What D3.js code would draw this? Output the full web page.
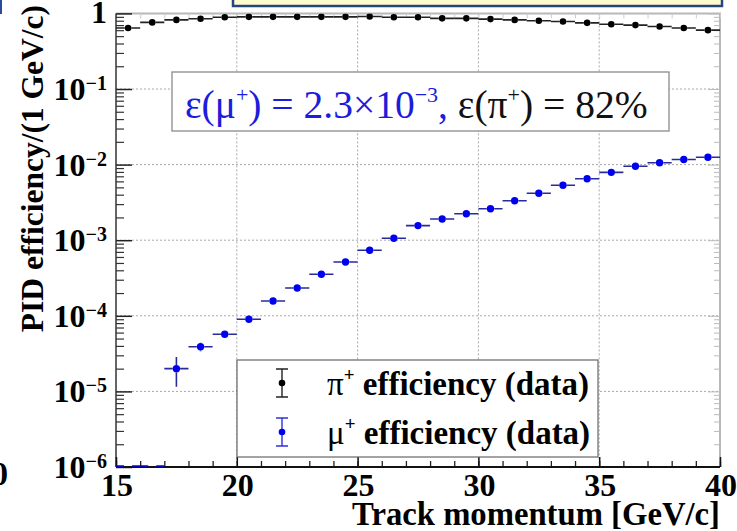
<!DOCTYPE html>
<html>
<head>
<meta charset="utf-8">
<script src="https://cdn.jsdelivr.net/npm/d3@7"></script>
<style>
  body { margin: 0; background: #fff; overflow: hidden; }
</style>
</head>
<body>
<script>
(function() {
    'use strict';

    // bin centres of the 1 GeV/c momentum bins
    var binCenters = [15.5, 16.5, 17.5, 18.5, 19.5, 20.5, 21.5, 22.5, 23.5, 24.5,
        25.5, 26.5, 27.5, 28.5, 29.5, 30.5, 31.5, 32.5, 33.5, 34.5,
        35.5, 36.5, 37.5, 38.5, 39.5];
    var binHalfWidth = 0.5;

    var pionEff = [0.64, 0.76, 0.82, 0.85, 0.89, 0.90, 0.90, 0.90, 0.90, 0.90,
        0.91, 0.89, 0.89, 0.86, 0.86, 0.84, 0.82, 0.80, 0.78, 0.75,
        0.72, 0.70, 0.67, 0.64, 0.60];
    var pionErr = [0.01, 0.008, 0.006, 0.005, 0.005, 0.005, 0.005, 0.005, 0.005, 0.005,
        0.005, 0.005, 0.005, 0.005, 0.005, 0.005, 0.005, 0.005, 0.005, 0.005,
        0.005, 0.005, 0.005, 0.006, 0.008];

    var muonEff = [0, 0, 2.0e-5, 3.9e-5, 5.7e-5, 9.0e-5, 1.57e-4, 2.33e-4, 3.54e-4, 5.15e-4,
        7.35e-4, 1.06e-3, 1.56e-3, 1.91e-3, 2.24e-3, 2.61e-3, 3.33e-3, 4.17e-3, 5.32e-3, 6.5e-3,
        7.9e-3, 9.5e-3, 1.06e-2, 1.17e-2, 1.25e-2];
    var muonErr = [0, 0, 0.85e-5, 0.5e-5, 0.5e-5, 0.6e-5, 0.8e-5, 1.0e-5, 1.3e-5, 1.6e-5,
        2.0e-5, 2.5e-5, 3.0e-5, 3.5e-5, 4.0e-5, 4.5e-5, 5.0e-5, 6.0e-5, 7.0e-5, 8.0e-5,
        9.0e-5, 1.0e-4, 1.1e-4, 1.2e-4, 1.3e-4];

    var xTickLabels = [15, 20, 25, 30, 35, 40];
    var xGridValues = [20, 25, 30, 35];
    var yTickExponents = [0, -1, -2, -3, -4, -5, -6];

    var width = 737, height = 531;
    var frame = { left: 116, right: 720, top: 13.4, bottom: 467 };
    var serif = '"Liberation Serif", "Times New Roman", serif';

    var svg = d3.select('body').append('svg')
        .attr('width', width)
        .attr('height', height)
        .attr('font-family', serif);

    var x = d3.scaleLinear().domain([15, 40]).range([frame.left, frame.right]);
    var y = d3.scaleLog().domain([1e-6, 1]).range([frame.bottom, frame.top]);

    // bits of neighbouring slide content
    svg.append('rect')
        .attr('x', 233).attr('y', -4).attr('width', 489).attr('height', 10)
        .attr('fill', '#fffbcc').attr('stroke', '#24457f').attr('stroke-width', 2.5);
    svg.append('rect')
        .attr('x', -2).attr('y', -2).attr('width', 4).attr('height', 16)
        .attr('fill', '#2a4a9a');
    svg.append('text')
        .attr('x', 8).attr('y', 485)
        .attr('text-anchor', 'end')
        .style('font-size', '33px').style('font-weight', 'bold')
        .text('0');

    svg.append('defs').append('clipPath').attr('id', 'plotclip')
        .append('rect')
        .attr('x', frame.left).attr('y', frame.top)
        .attr('width', frame.right - frame.left)
        .attr('height', frame.bottom - frame.top);

    // grid
    var grid = svg.append('g')
        .attr('stroke', '#a8a8a8')
        .attr('stroke-width', 1)
        .attr('stroke-dasharray', '2,2');
    grid.selectAll('line.gx').data(xGridValues).enter().append('line')
        .attr('x1', function(d) { return x(d); })
        .attr('x2', function(d) { return x(d); })
        .attr('y1', frame.top).attr('y2', frame.bottom);
    grid.selectAll('line.gy').data([-1, -2, -3, -4, -5]).enter().append('line')
        .attr('x1', frame.left).attr('x2', frame.right)
        .attr('y1', function(d) { return y(Math.pow(10, d)); })
        .attr('y2', function(d) { return y(Math.pow(10, d)); });

    // frame: top and right in grey
    svg.append('path')
        .attr('d', 'M' + frame.left + ',' + frame.top + 'H' + frame.right + 'V' + frame.bottom)
        .attr('fill', 'none').attr('stroke', '#b8b8b8').attr('stroke-width', 2);

    // minor tick values
    var yMajor = yTickExponents.map(function(e) { return Math.pow(10, e); });
    var yMinor = [];
    yTickExponents.slice(1).forEach(function(e) {
        for (var k = 2; k <= 9; k++) { yMinor.push(k * Math.pow(10, e)); }
    });
    var xMinor = d3.range(15, 40.5, 1);

    // mirrored ticks (right / top)
    svg.append('g')
        .attr('transform', 'translate(' + frame.right + ',0)')
        .call(d3.axisRight(y).tickValues(yMinor).tickSize(-6).tickFormat(''))
        .call(function(g) { g.select('.domain').remove(); })
        .selectAll('line').attr('stroke', '#bbb');
    svg.append('g')
        .attr('transform', 'translate(' + frame.right + ',0)')
        .call(d3.axisRight(y).tickValues(yMajor).tickSize(-12).tickFormat(''))
        .call(function(g) { g.select('.domain').remove(); })
        .selectAll('line').attr('stroke', '#bbb');
    svg.append('g')
        .attr('transform', 'translate(0,' + frame.top + ')')
        .call(d3.axisTop(x).tickValues(xMinor).tickSize(-5).tickFormat(''))
        .call(function(g) { g.select('.domain').remove(); })
        .selectAll('line').attr('stroke', '#ccc');

    // left axis
    var yAxisG = svg.append('g')
        .attr('transform', 'translate(' + frame.left + ',0)');
    yAxisG.append('g')
        .call(d3.axisLeft(y).tickValues(yMinor).tickSize(-8).tickFormat(''))
        .call(function(g) { g.select('.domain').remove(); })
        .selectAll('line').attr('stroke', '#333').attr('stroke-width', 1.2);
    yAxisG.append('g')
        .call(d3.axisLeft(y).tickValues(yMajor).tickSize(-16).tickFormat(''))
        .call(function(g) { g.select('.domain').remove(); })
        .selectAll('line').attr('stroke', '#222').attr('stroke-width', 1.5);
    yAxisG.append('line')
        .attr('x1', 0).attr('x2', 0)
        .attr('y1', frame.top).attr('y2', frame.bottom)
        .attr('stroke', '#333').attr('stroke-width', 1.5);

    // bottom axis
    var xAxisG = svg.append('g')
        .attr('transform', 'translate(0,' + frame.bottom + ')');
    xAxisG.append('g')
        .call(d3.axisBottom(x).tickValues(xMinor).tickSize(-6).tickFormat(''))
        .call(function(g) { g.select('.domain').remove(); })
        .selectAll('line').attr('stroke', '#222').attr('stroke-width', 1.3);
    xAxisG.append('g')
        .call(d3.axisBottom(x).tickValues(xTickLabels).tickSize(-10).tickFormat(''))
        .call(function(g) { g.select('.domain').remove(); })
        .selectAll('line').attr('stroke', '#111').attr('stroke-width', 1.5);
    xAxisG.append('line')
        .attr('x1', frame.left).attr('x2', frame.right)
        .attr('y1', 0).attr('y2', 0)
        .attr('stroke', '#111').attr('stroke-width', 1.8);

    // tick labels
    svg.selectAll('text.xlab').data(xTickLabels).enter().append('text')
        .attr('class', 'xlab')
        .attr('x', function(d) { return x(d) + 1; })
        .attr('y', 496)
        .attr('text-anchor', 'middle')
        .style('font-size', '32px').style('font-weight', 'bold')
        .text(function(d) { return d; });

    yTickExponents.forEach(function(e) {
        var ty = y(Math.pow(10, e));
        var t = svg.append('text')
            .attr('x', 107)
            .attr('text-anchor', 'end')
            .style('font-weight', 'bold');
        if (e === 0) {
            t.attr('y', ty + 10).style('font-size', '32px').text('1');
        } else {
            t.attr('y', ty + 11).style('font-size', '32px');
            t.append('tspan').text('10');
            t.append('tspan').attr('dy', -10).style('font-size', '20px').text('\u2212' + (-e));
        }
    });

    // axis titles
    svg.append('text')
        .attr('x', 720).attr('y', 525)
        .attr('text-anchor', 'end')
        .style('font-size', '32.7px').style('font-weight', 'bold')
        .text('Track momentum [GeV/c]');
    svg.append('text')
        .attr('transform', 'translate(43,5) rotate(-90)')
        .attr('text-anchor', 'end')
        .style('font-size', '31.5px').style('font-weight', 'bold')
        .text('PID efficiency/(1 GeV/c)');

    // data
    var plot = svg.append('g').attr('clip-path', 'url(#plotclip)');

    function drawSeries(vals, errs, markColor, barColor, r) {
        var g = plot.append('g');
        var pts = binCenters.map(function(c, i) {
            return { c: c, v: vals[i], e: errs[i] };
        });
        var shown = pts.filter(function(d) { return d.v > 0; });
        var zero = pts.filter(function(d) { return d.v <= 0; });
        // horizontal bin bars with a gap for the marker
        g.selectAll('path.h').data(shown).enter().append('path')
            .attr('d', function(d) {
                var cx = x(d.c), cy = y(d.v);
                return 'M' + x(d.c - binHalfWidth) + ',' + cy + 'H' + (cx - r) +
                    'M' + (cx + r) + ',' + cy + 'H' + x(d.c + binHalfWidth);
            })
            .attr('stroke', barColor).attr('stroke-width', 1.6).attr('fill', 'none');
        g.selectAll('path.v').data(shown.filter(function(d) {
            return y(d.v - d.e) - y(d.v + d.e) > 2 * r + 1;
        })).enter().append('path')
            .attr('d', function(d) {
                var cx = x(d.c), cy = y(d.v);
                return 'M' + cx + ',' + y(d.v + d.e) + 'V' + (cy - r) +
                    'M' + cx + ',' + (cy + r) + 'V' + y(d.v - d.e);
            })
            .attr('stroke', barColor).attr('stroke-width', 1.6).attr('fill', 'none');
        g.selectAll('path.z').data(zero).enter().append('path')
            .attr('d', function(d) {
                var cx = x(d.c);
                return 'M' + x(d.c - binHalfWidth) + ',' + (frame.bottom - 1) + 'H' + (cx - 4) +
                    'M' + (cx + 4) + ',' + (frame.bottom - 1) + 'H' + x(d.c + binHalfWidth);
            })
            .attr('stroke', markColor).attr('stroke-width', 1.6).attr('fill', 'none');
        g.selectAll('circle').data(shown).enter().append('circle')
            .attr('cx', function(d) { return x(d.c); })
            .attr('cy', function(d) { return y(d.v); })
            .attr('r', r)
            .attr('fill', markColor);
    }

    drawSeries(pionEff, pionErr, '#000', '#222', 3.3);
    drawSeries(muonEff, muonErr, '#0000f0', '#2a2a9a', 3.7);

    // annotation box
    svg.append('rect')
        .attr('x', 172).attr('y', 72).attr('width', 497).attr('height', 59)
        .attr('fill', '#fff').attr('stroke', '#8a8a8a').attr('stroke-width', 1.3);
    var ann = svg.append('text')
        .attr('x', 185).attr('y', 118)
        .style('font-size', '39.5px');
    var blue = '#1c1cdc';
    ann.append('tspan').attr('fill', blue).text('\u03b5(\u03bc');
    ann.append('tspan').attr('fill', blue).attr('dy', -16).style('font-size', '22px').text('+');
    ann.append('tspan').attr('fill', blue).attr('dy', 16).text(') = 2.3\u00d710');
    ann.append('tspan').attr('fill', blue).attr('dy', -16).style('font-size', '22px').text('\u22123');
    ann.append('tspan').attr('fill', blue).attr('dy', 16).text(', ');
    ann.append('tspan').attr('fill', '#111').text('\u03b5(\u03c0');
    ann.append('tspan').attr('fill', '#111').attr('dy', -16).style('font-size', '22px').text('+');
    ann.append('tspan').attr('fill', '#111').attr('dy', 16).text(') = 82%');

    // legend
    var leg = svg.append('g');
    leg.append('rect')
        .attr('x', 237).attr('y', 360).attr('width', 361).attr('height', 97)
        .attr('fill', '#fff').attr('stroke', '#666').attr('stroke-width', 1.2);
    var legendItems = [
        { label: '\u03c0', color: '#000', bar: '#222', y: 383, half: 14 },
        { label: '\u03bc', color: '#0000f0', bar: '#3030e0', y: 432, half: 14 }
    ];
    legendItems.forEach(function(it) {
        var lx = 282;
        leg.append('path')
            .attr('d', 'M' + lx + ',' + (it.y - it.half) + 'V' + (it.y + it.half) +
                'M' + (lx - 6) + ',' + (it.y - it.half) + 'H' + (lx + 6) +
                'M' + (lx - 6) + ',' + (it.y + it.half) + 'H' + (lx + 6))
            .attr('stroke', it.bar).attr('stroke-width', 1.4).attr('fill', 'none');
        leg.append('circle').attr('cx', lx).attr('cy', it.y).attr('r', 3.3).attr('fill', it.color);
        var t = leg.append('text')
            .attr('x', 327).attr('y', it.y + 12)
            .style('font-size', '33px').style('font-weight', 'bold');
        t.append('tspan').style('font-weight', 'normal').text(it.label);
        t.append('tspan').attr('dy', -14).style('font-size', '19px').text('+');
        t.append('tspan').attr('dy', 14).text(' efficiency (data)');
    });
}());
</script>
</body>
</html>
